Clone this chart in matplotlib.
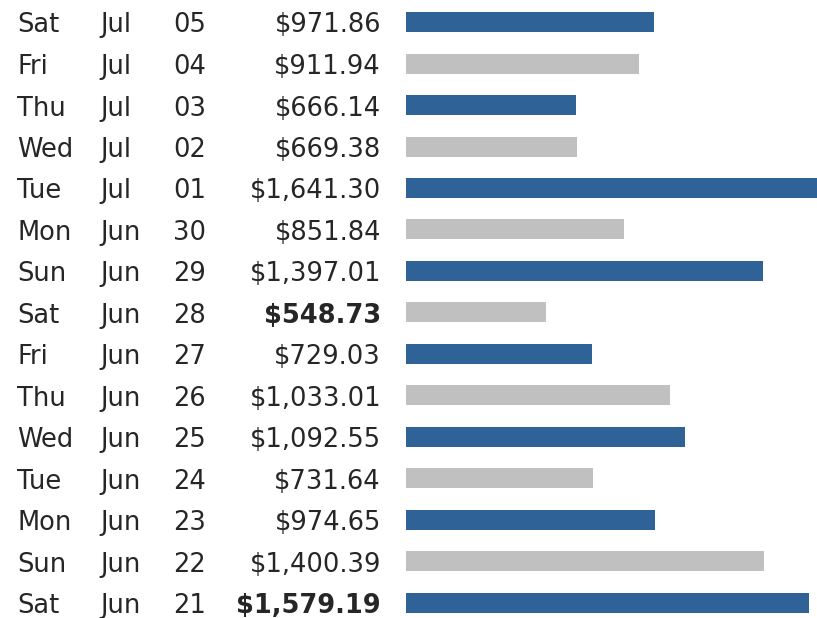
import matplotlib
matplotlib.use('agg')
import matplotlib.pyplot as plt
from matplotlib.transforms import blended_transform_factory

# data, top row first
days = ['Sat', 'Fri', 'Thu', 'Wed', 'Tue', 'Mon', 'Sun', 'Sat',
        'Fri', 'Thu', 'Wed', 'Tue', 'Mon', 'Sun', 'Sat']
months = ['Jul', 'Jul', 'Jul', 'Jul', 'Jul', 'Jun', 'Jun', 'Jun',
          'Jun', 'Jun', 'Jun', 'Jun', 'Jun', 'Jun', 'Jun']
dates = ['05', '04', '03', '02', '01', '30', '29', '28',
         '27', '26', '25', '24', '23', '22', '21']
amounts = [971.86, 911.94, 666.14, 669.38, 1641.30, 851.84, 1397.01, 548.73,
           729.03, 1033.01, 1092.55, 731.64, 974.65, 1400.39, 1579.19]
bold_rows = [7, 14]

W, H = 817, 618
fig = plt.figure(figsize=(W / 100, H / 100), dpi=100)

bar_x0 = 406
px_per_dollar = 0.2555
row_step = 41.5
row0 = 22

ax = fig.add_axes([bar_x0 / W, 0, (W - bar_x0) / W, 1])
ax.set_xlim(0, (W - bar_x0) / px_per_dollar)
top = -row0 / row_step
ax.set_ylim(top + H / row_step, top)
ax.axis('off')

rows = list(range(len(amounts)))
colors = ['#2f6397' if i % 2 == 0 else '#c0c0c0' for i in rows]
ax.barh(rows, amounts, height=20 / row_step, color=colors, left=0)

trans = blended_transform_factory(fig.transFigure, ax.transData)
fs = 18.5
tc = '#262626'
base = 10.5 / row_step
for i in rows:
    y = i + base
    ax.text(17 / W, y, days[i], transform=trans, fontsize=fs, color=tc,
            ha='left', va='baseline')
    ax.text(100 / W, y, months[i], transform=trans, fontsize=fs, color=tc,
            ha='left', va='baseline')
    ax.text(173 / W, y, dates[i], transform=trans, fontsize=fs, color=tc,
            ha='left', va='baseline')
    ax.text(381 / W, y, '${:,.2f}'.format(amounts[i]), transform=trans,
            fontsize=fs, color=tc, ha='right', va='baseline',
            fontweight='bold' if i in bold_rows else 'normal')

fig.savefig('out.png', dpi=100)
